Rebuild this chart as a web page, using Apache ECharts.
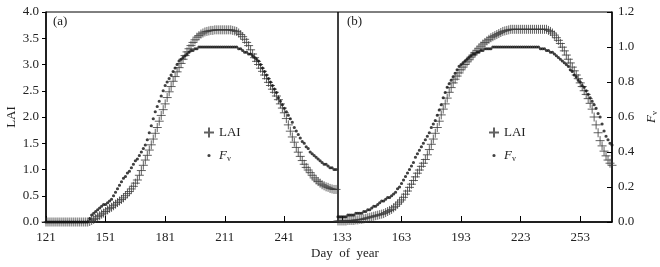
<!DOCTYPE html>
<html>
<head>
<meta charset="utf-8">
<script src="https://cdn.jsdelivr.net/npm/echarts@6/dist/echarts.min.js"></script>
<style>
  html, body { margin: 0; padding: 0; background: #fff; }
  #main { width: 660px; height: 267px; }
</style>
</head>
<body>
<div id="main"></div>
<script>
// day of year, one value per day
var daysA = [];
for (var d = 121; d <= 267; d++) daysA.push(d);
var daysB = [];
for (var d2 = 131; d2 <= 269; d2++) daysB.push(d2);

// panel (a): days 121-267
var laiA = [0, 0, 0, 0, 0, 0, 0, 0, 0, 0,
  0, 0, 0, 0, 0, 0, 0, 0, 0, 0,
  0, 0, 0.01, 0.03, 0.05, 0.07, 0.1, 0.12, 0.15, 0.17,
  0.2, 0.23, 0.26, 0.28, 0.31, 0.34, 0.37, 0.4, 0.43, 0.46,
  0.5, 0.54, 0.58, 0.63, 0.68, 0.74, 0.8, 0.89, 0.98, 1.08,
  1.18, 1.27, 1.37, 1.47, 1.58, 1.69, 1.8, 1.92, 2.03, 2.14,
  2.25, 2.37, 2.48, 2.58, 2.68, 2.77, 2.86, 2.94, 3.02, 3.1,
  3.17, 3.24, 3.3, 3.36, 3.42, 3.47, 3.52, 3.55, 3.58, 3.6,
  3.62, 3.63, 3.64, 3.65, 3.65, 3.66, 3.66, 3.66, 3.66, 3.66,
  3.66, 3.66, 3.66, 3.66, 3.65, 3.64, 3.63, 3.6, 3.57, 3.53,
  3.48, 3.42, 3.36, 3.28, 3.2, 3.13, 3.06, 3.0, 2.93, 2.87,
  2.8, 2.73, 2.66, 2.6, 2.53, 2.47, 2.4, 2.33, 2.25, 2.17,
  2.08, 1.97, 1.85, 1.73, 1.62, 1.52, 1.42, 1.33, 1.25, 1.17,
  1.1, 1.04, 0.99, 0.94, 0.89, 0.84, 0.8, 0.77, 0.74, 0.71,
  0.69, 0.67, 0.66, 0.64, 0.63, 0.62, 0.62];
var fvA = [0, 0, 0, 0, 0, 0, 0, 0, 0, 0,
  0, 0, 0, 0, 0, 0, 0, 0, 0, 0,
  0, 0, 0.02, 0.04, 0.05, 0.06, 0.07, 0.08, 0.09, 0.1,
  0.1, 0.11, 0.12, 0.13, 0.15, 0.17, 0.19, 0.21, 0.23, 0.25,
  0.26, 0.28, 0.29, 0.31, 0.33, 0.35, 0.36, 0.38, 0.4, 0.42,
  0.44, 0.47, 0.51, 0.55, 0.59, 0.63, 0.66, 0.69, 0.72, 0.75,
  0.78, 0.8, 0.82, 0.84, 0.86, 0.88, 0.9, 0.92, 0.93, 0.94,
  0.95, 0.96, 0.97, 0.98, 0.98, 0.99, 0.99, 1, 1, 1,
  1, 1, 1, 1, 1, 1, 1, 1, 1, 1,
  1, 1, 1, 1, 1, 1, 1, 0.99, 0.99, 0.98,
  0.97, 0.97, 0.96, 0.96, 0.95, 0.94, 0.93, 0.92, 0.9, 0.88,
  0.86, 0.84, 0.82, 0.8, 0.78, 0.76, 0.74, 0.71, 0.69, 0.67,
  0.65, 0.63, 0.61, 0.59, 0.57, 0.54, 0.52, 0.5, 0.48, 0.46,
  0.45, 0.43, 0.42, 0.4, 0.39, 0.38, 0.37, 0.36, 0.35, 0.34,
  0.33, 0.33, 0.32, 0.31, 0.31, 0.3, 0.3];

// panel (b): days 131-269
var laiB = [0.02, 0.02, 0.02, 0.02, 0.02, 0.03, 0.03, 0.03, 0.03, 0.04,
  0.04, 0.05, 0.05, 0.06, 0.07, 0.08, 0.09, 0.1, 0.11, 0.12,
  0.13, 0.14, 0.15, 0.16, 0.18, 0.2, 0.22, 0.24, 0.27, 0.3,
  0.34, 0.38, 0.42, 0.47, 0.53, 0.59, 0.66, 0.72, 0.79, 0.86,
  0.93, 0.99, 1.06, 1.12, 1.19, 1.28, 1.38, 1.48, 1.58, 1.69,
  1.8, 1.92, 2.04, 2.15, 2.25, 2.36, 2.47, 2.56, 2.65, 2.72,
  2.78, 2.84, 2.9, 2.95, 3.0, 3.05, 3.09, 3.14, 3.18, 3.23,
  3.27, 3.31, 3.35, 3.39, 3.42, 3.45, 3.48, 3.51, 3.53, 3.55,
  3.57, 3.59, 3.61, 3.63, 3.64, 3.65, 3.66, 3.67, 3.67, 3.67,
  3.67, 3.67, 3.67, 3.67, 3.67, 3.67, 3.67, 3.67, 3.67, 3.67,
  3.67, 3.67, 3.67, 3.67, 3.67, 3.67, 3.65, 3.63, 3.6, 3.56,
  3.51, 3.46, 3.4, 3.33, 3.26, 3.18, 3.1, 3.03, 2.95, 2.88,
  2.8, 2.73, 2.65, 2.58, 2.5, 2.43, 2.35, 2.26, 2.15, 2.0,
  1.85, 1.7, 1.55, 1.45, 1.35, 1.26, 1.18, 1.12, 1.08];
var fvB = [0.03, 0.03, 0.03, 0.03, 0.03, 0.04, 0.04, 0.04, 0.04, 0.05,
  0.05, 0.05, 0.05, 0.06, 0.06, 0.07, 0.07, 0.08, 0.09, 0.09,
  0.1, 0.11, 0.12, 0.12, 0.13, 0.14, 0.14, 0.15, 0.16, 0.17,
  0.19, 0.2, 0.22, 0.24, 0.26, 0.28, 0.3, 0.32, 0.34, 0.37,
  0.39, 0.41, 0.43, 0.45, 0.47, 0.49, 0.51, 0.54, 0.56, 0.58,
  0.61, 0.64, 0.67, 0.71, 0.74, 0.77, 0.79, 0.81, 0.83, 0.85,
  0.87, 0.89, 0.9, 0.91, 0.92, 0.93, 0.94, 0.95, 0.96, 0.96,
  0.97, 0.97, 0.98, 0.98, 0.99, 0.99, 0.99, 0.99, 1, 1,
  1, 1, 1, 1, 1, 1, 1, 1, 1, 1,
  1, 1, 1, 1, 1, 1, 1, 1, 1, 1,
  1, 1, 0.99, 0.99, 0.99, 0.98, 0.98, 0.97, 0.97, 0.96,
  0.95, 0.94, 0.93, 0.92, 0.91, 0.9, 0.89, 0.87, 0.86, 0.84,
  0.83, 0.81, 0.8, 0.78, 0.77, 0.75, 0.73, 0.71, 0.69, 0.67,
  0.65, 0.62, 0.6, 0.56, 0.52, 0.49, 0.47, 0.45, 0.44];

var ticksA = [121, 151, 181, 211, 241];
var ticksB = [133, 163, 193, 223, 253];

function pairs(xs, ys) {
  var out = [];
  for (var i = 0; i < xs.length; i++) out.push([xs[i], ys[i]]);
  return out;
}

var FONT = "'Liberation Serif', 'DejaVu Serif', serif";
var CROSS = 'path://M0,5L10,5M5,0L5,10';
// small dot, padded to a 10x10 box so the legend icon stays small
var DOT = 'path://M0,0L0.01,0M10,10L10.01,10M6.6,5A1.6,1.6,0,1,1,3.4,5A1.6,1.6,0,1,1,6.6,5Z';

function xAxisOf(grid, min, max, ticks) {
  return {
    type: 'value', gridIndex: grid, min: min, max: max,
    splitLine: { show: false },
    axisLine: { lineStyle: { color: '#000', width: 1.5 } },
    axisTick: { inside: true, length: 6, customValues: ticks, lineStyle: { color: '#000' } },
    axisLabel: { margin: 9, customValues: ticks, color: '#222', fontFamily: FONT, fontSize: 13 }
  };
}

var crossStyle = { color: 'rgba(0,0,0,0)', borderColor: '#3a3a3a', borderWidth: 1 };
var dotStyle = { color: '#111' };
var fvRich = {
  i: { fontFamily: FONT, fontSize: 13, fontStyle: 'italic', color: '#222' },
  s: { fontFamily: FONT, fontSize: 8, color: '#222', verticalAlign: 'bottom', padding: [6, 0, 0, 0] }
};

var legendBase = {
  orient: 'vertical', itemWidth: 10, itemHeight: 10, itemGap: 10,
  selectedMode: false,
  textStyle: { fontFamily: FONT, fontSize: 13, color: '#222', rich: fvRich },
  formatter: function (n) { return n === 'Fv' ? '{i|F}{s|v}' : n; },
  data: [{ name: 'LAI', icon: CROSS }, { name: 'Fv', icon: DOT }]
};

var chart = echarts.init(document.getElementById('main'));
chart.setOption({
  animation: false,
  backgroundColor: '#fff',
  grid: [
    { left: 46, right: 322, top: 12, bottom: 45, show: true, borderColor: '#000', borderWidth: 1 },
    { left: 338, right: 48, top: 12, bottom: 45, show: true, borderColor: '#000', borderWidth: 1 }
  ],
  xAxis: [xAxisOf(0, 121, 268, ticksA), xAxisOf(1, 131, 269, ticksB)],
  yAxis: [
    {
      type: 'value', gridIndex: 0, min: 0, max: 4, interval: 0.5,
      name: 'LAI', nameLocation: 'middle', nameGap: 28, nameRotate: 90,
      nameTextStyle: { fontFamily: FONT, fontSize: 13, color: '#222' },
      splitLine: { show: false },
      axisLine: { lineStyle: { color: '#000', width: 1.5 } },
      axisTick: { inside: false, length: 4, lineStyle: { color: '#000' } },
      axisLabel: { margin: 7, color: '#222', fontFamily: FONT, fontSize: 13,
        formatter: function (v) { return v.toFixed(1); } }
    },
    { type: 'value', gridIndex: 0, min: 0, max: 1.2, show: false },
    { type: 'value', gridIndex: 1, min: 0, max: 4, show: false },
    {
      type: 'value', gridIndex: 1, position: 'right', min: 0, max: 1.2, interval: 0.2,
      name: '{i|F}{s|v}', nameLocation: 'middle', nameGap: 33, nameRotate: 90,
      nameTextStyle: { rich: fvRich },
      splitLine: { show: false },
      axisLine: { show: true, lineStyle: { color: '#000', width: 1.5 } },
      axisTick: { inside: true, length: 5, lineStyle: { color: '#000' } },
      axisLabel: { margin: 6, color: '#222', fontFamily: FONT, fontSize: 13,
        formatter: function (v) { return v.toFixed(1); } }
    }
  ],
  legend: [
    Object.assign({}, legendBase, { left: 198, top: 121 }),
    Object.assign({}, legendBase, { left: 483, top: 121 })
  ],
  graphic: [
    { type: 'text', left: 53, top: 15, style: { text: '(a)', font: '13px ' + FONT, fill: '#222' } },
    { type: 'text', left: 347, top: 15, style: { text: '(b)', font: '13px ' + FONT, fill: '#222' } },
    { type: 'text', x: 345, y: 254, style: { text: 'Day  of  year', font: '13px ' + FONT, fill: '#222',
      align: 'center', verticalAlign: 'middle' } }
  ],
  series: [
    { name: 'LAI', type: 'scatter', xAxisIndex: 0, yAxisIndex: 0, symbol: CROSS, symbolSize: 9,
      itemStyle: crossStyle, data: pairs(daysA, laiA) },
    { name: 'Fv', type: 'scatter', xAxisIndex: 0, yAxisIndex: 1, symbol: DOT, symbolSize: 10,
      itemStyle: dotStyle, data: pairs(daysA, fvA) },
    { name: 'LAI', type: 'scatter', xAxisIndex: 1, yAxisIndex: 2, symbol: CROSS, symbolSize: 9,
      itemStyle: crossStyle, data: pairs(daysB, laiB) },
    { name: 'Fv', type: 'scatter', xAxisIndex: 1, yAxisIndex: 3, symbol: DOT, symbolSize: 10,
      itemStyle: dotStyle, data: pairs(daysB, fvB) }
  ]
});
</script>
</body>
</html>
